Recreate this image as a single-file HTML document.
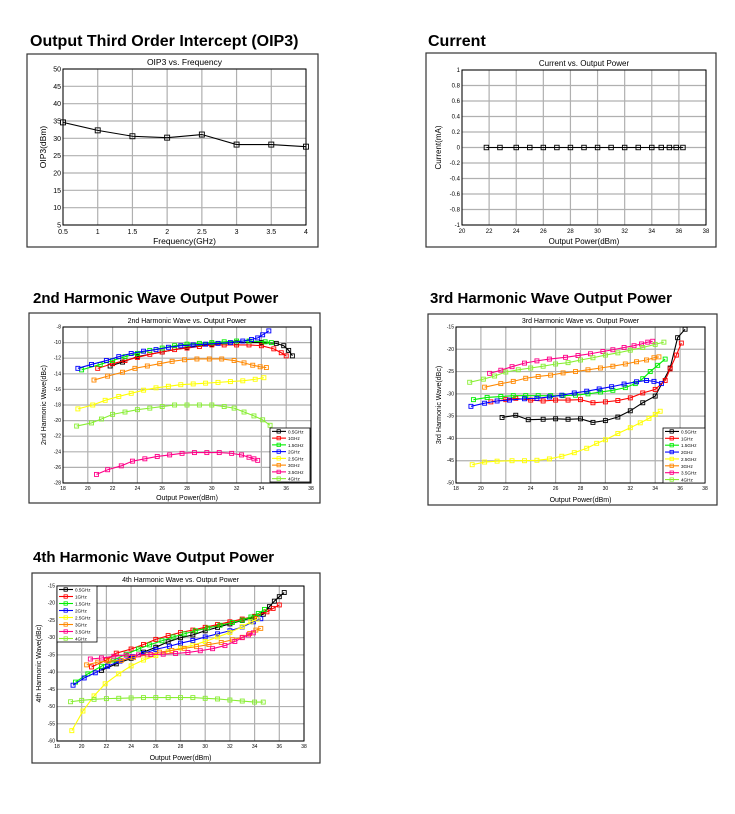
<!DOCTYPE html>
<html><head><meta charset="utf-8"><style>
html,body{margin:0;padding:0;background:#fff;}
svg{display:block;font-family:"Liberation Sans",Arial,sans-serif;}
</style></head><body>
<svg id="s" width="735" height="814" viewBox="0 0 735 814" xmlns="http://www.w3.org/2000/svg">
<text x="30" y="46" font-size="16" font-weight="bold">Output Third Order Intercept (OIP3)</text>
<text x="428" y="46" font-size="16" font-weight="bold">Current</text>
<text x="33" y="303" font-size="15" font-weight="bold">2nd Harmonic Wave Output Power</text>
<text x="430" y="303" font-size="15" font-weight="bold">3rd Harmonic Wave Output Power</text>
<text x="33" y="562" font-size="15" font-weight="bold">4th Harmonic Wave Output Power</text>
</svg>
<script>
const S=document.getElementById('s');let h='';
const C={b:'#000',r:'#f00',g:'#0e0',u:'#00f',y:'#ff0',o:'#f80',p:'#f08',l:'#8e3'};
function chart(o){
 const [fx0,fy0,fx1,fy1]=o.frame,[px0,py0,px1,py1]=o.plot;
 const X=v=>px0+(v-o.xr[0])/(o.xr[1]-o.xr[0])*(px1-px0);
 const Y=v=>py1-(v-o.yr[0])/(o.yr[1]-o.yr[0])*(py1-py0);
 h+=`<rect x="${fx0}" y="${fy0}" width="${fx1-fx0}" height="${fy1-fy0}" fill="#fff" stroke="#333" stroke-width="1.2"/>`;
 const fs=o.fs;
 o.xt.forEach(t=>{const x=X(t);h+=`<line x1="${x}" y1="${py0}" x2="${x}" y2="${py1}" stroke="#b0b0b0" stroke-width="1.2"/><text x="${x}" y="${py1+fs+2}" font-size="${fs}" text-anchor="middle">${t}</text>`;});
 o.yt.forEach(t=>{const y=Y(t);h+=`<line x1="${px0}" y1="${y}" x2="${px1}" y2="${y}" stroke="#b0b0b0" stroke-width="1.2"/><text x="${px0-2}" y="${y+fs/2-1}" font-size="${fs}" text-anchor="end">${t}</text>`;});
 h+=`<rect x="${px0}" y="${py0}" width="${px1-px0}" height="${py1-py0}" fill="none" stroke="#000" stroke-width="1"/>`;
 h+=`<text x="${(px0+px1)/2}" y="${py0-4}" font-size="${o.ts}" text-anchor="middle">${o.title}</text>`;
 h+=`<text x="${(px0+px1)/2}" y="${fy1-3}" font-size="${o.ls}" text-anchor="middle">${o.xl}</text>`;
 const yc=(py0+py1)/2,yx=o.ylx;
 h+=`<text x="${yx}" y="${yc}" font-size="${o.ls}" text-anchor="middle" transform="rotate(-90 ${yx} ${yc})">${o.yl}</text>`;
 o.series.forEach(s=>{const pts=s.d.map(p=>[X(p[0]),Y(p[1])]);
  h+=`<polyline points="${pts.map(p=>p.join(',')).join(' ')}" fill="none" stroke="${s.c}" stroke-width="1.1"/>`;
  const m=o.ms;pts.forEach(p=>h+=`<rect x="${p[0]-m/2}" y="${p[1]-m/2}" width="${m}" height="${m}" fill="none" stroke="${s.c}" stroke-width="0.9"/>`);});
 if(o.leg){const [lx,ly,lw,lh]=o.leg;h+=`<rect x="${lx}" y="${ly}" width="${lw}" height="${lh}" fill="#fff" stroke="#000" stroke-width="0.8"/>`;
  const n=o.series.length,st=lh/n;o.series.forEach((s,i)=>{const y=ly+st*(i+.5);
  h+=`<line x1="${lx+2}" y1="${y}" x2="${lx+16}" y2="${y}" stroke="${s.c}" stroke-width="1.1"/><rect x="${lx+7}" y="${y-1.7}" width="3.4" height="3.4" fill="none" stroke="${s.c}" stroke-width="0.8"/><text x="${lx+18}" y="${y+2}" font-size="4.6">${s.n}</text>`;});}
}
const P=s=>s.trim().split(/;\s*/).map(p=>p.split(',').map(Number));
const N=['0.5GHz','1GHz','1.5GHz','2GHz','2.5GHz','3GHz','3.5GHz','4GHz'],K='bruyop l'.replace(' ','').split('');
const ser=a=>a.map((d,i)=>({c:C['bgruyopl'.includes('')?['b','r','g','u','y','o','p','l'][i]:'b'],n:N[i],d:P(d)}));
const rng=(a,b,s)=>{const r=[];for(let v=a;s>0?v<=b+1e-9:v>=b-1e-9;v+=s)r.push(+v.toFixed(2));return r;};
chart({frame:[27,54,318,247],plot:[63,69,306,225],xr:[0.5,4],yr:[5,50],xt:rng(0.5,4,0.5),yt:rng(5,50,5),fs:7,ts:8.5,ls:8.5,ms:5,
 title:'OIP3 vs. Frequency',xl:'Frequency(GHz)',yl:'OIP3(dBm)',ylx:46,
 series:[{c:'#000',d:P('0.5,34.6;1,32.3;1.5,30.6;2,30.2;2.5,31.1;3,28.2;3.5,28.2;4,27.6')}]});
chart({frame:[426,53,716,247],plot:[462,70,706,225],xr:[20,38],yr:[-1,1],xt:rng(20,38,2),yt:rng(1,-1,-0.2),fs:6,ts:8,ls:8,ms:4.5,
 title:'Current vs. Output Power',xl:'Output Power(dBm)',yl:'Current(mA)',ylx:441,
 series:[{c:'#000',d:P('21.8,0;22.8,0;24,0;25,0;26,0;27,0;28,0;29,0;30,0;31,0;32,0;33,0;34,0;34.7,0;35.3,0;35.8,0;36.3,0')}]});
chart({frame:[29,313,320,503],plot:[63,327,311,483],xr:[18,38],yr:[-28,-8],xt:rng(18,38,2),yt:rng(-8,-28,-2),fs:5,ts:7,ls:7,ms:4,
 title:'2nd Harmonic Wave vs. Output Power',xl:'Output Power(dBm)',yl:'2nd Harmonic Wave(dBc)',ylx:46,leg:[270,428,40,54],
 series:ser(['21.8,-13;22.8,-12.5;24,-11.8;26,-11.2;28,-10.6;30,-10.2;32,-10;34,-10;35.2,-10.1;35.8,-10.4;36.2,-11;36.5,-11.7',
 '20.8,-13.3;22,-12.7;23,-12.3;24,-11.9;25,-11.5;26,-11.2;27,-10.9;28,-10.7;29,-10.5;30,-10.3;31,-10.3;32,-10.3;33,-10.3;34,-10.4;35,-10.8;35.6,-11.3;36,-11.7',
 '19.5,-13.5;21,-12.8;22,-12.3;23,-11.8;24,-11.4;25,-11;26,-10.7;27,-10.4;28,-10.2;29,-10.1;30,-10;31,-9.9;32,-9.8;33,-9.8;34.3,-9.9;34.8,-10',
 '19.2,-13.3;20.3,-12.8;21.5,-12.3;22.5,-11.8;23.5,-11.4;24.5,-11.1;25.5,-10.9;26.5,-10.6;27.5,-10.4;28.5,-10.3;29.5,-10.2;30.5,-10.1;31.5,-10;32.5,-9.8;33.2,-9.6;33.7,-9.4;34.1,-9;34.6,-8.5',
 '19.2,-18.5;20.4,-18;21.4,-17.4;22.5,-16.9;23.5,-16.5;24.5,-16.1;25.5,-15.8;26.5,-15.6;27.5,-15.4;28.5,-15.3;29.5,-15.2;30.5,-15.1;31.5,-15;32.5,-14.9;33.5,-14.7;34.2,-14.5',
 '20.5,-14.8;21.6,-14.3;22.8,-13.8;23.8,-13.3;24.8,-13;25.8,-12.7;26.8,-12.4;27.8,-12.2;28.8,-12.1;29.8,-12.1;30.8,-12.1;31.8,-12.3;32.6,-12.6;33.3,-12.9;33.9,-13.1;34.4,-13.2',
 '20.7,-26.9;21.6,-26.3;22.7,-25.8;23.6,-25.2;24.6,-24.9;25.6,-24.6;26.6,-24.4;27.6,-24.2;28.6,-24.1;29.6,-24.1;30.6,-24.1;31.6,-24.2;32.4,-24.4;33,-24.7;33.4,-24.9;33.7,-25.1',
 '19.1,-20.7;20.3,-20.3;21.1,-19.8;22,-19.2;23,-18.9;24,-18.6;25,-18.4;26,-18.2;27,-18;28,-18;29,-18;30,-18;31,-18.2;31.8,-18.4;32.6,-18.9;33.4,-19.4;34.1,-19.9;34.7,-20.6'])});
chart({frame:[428,314,717,505],plot:[456,327,705,483],xr:[18,38],yr:[-50,-15],xt:rng(18,38,2),yt:rng(-15,-50,-5),fs:5,ts:7,ls:7,ms:4,
 title:'3rd Harmonic Wave vs. Output Power',xl:'Output Power(dBm)',yl:'3rd Harmonic Wave(dBc)',ylx:441,leg:[663,428,42,55],
 series:ser(['21.7,-35.3;22.8,-34.8;23.8,-35.8;25,-35.7;26,-35.6;27,-35.7;28,-35.6;29,-36.4;30,-36;31,-35.2;32,-33.8;33,-32;34,-30.5;35.2,-24.2;35.8,-17.4;36.4,-15.5',
 '20.8,-31.8;22,-31.3;22.8,-31;24,-31.4;25,-31.6;26,-31.4;27,-31.4;28,-31.3;29,-32;30,-31.8;31,-31.5;32,-30.9;33,-29.8;34,-29;34.8,-27;35.2,-24.4;35.7,-21.3;36.1,-18.6',
 '19.4,-31.3;20.5,-30.8;21.6,-30.6;22.6,-30.4;23.6,-30.4;24.6,-30.4;25.6,-30.4;26.6,-30.4;27.6,-30.3;28.6,-30;29.6,-29.6;30.6,-29.2;31.6,-28.6;32.4,-27.7;33,-26.6;33.6,-25;34.2,-23.6;34.8,-22.2',
 '19.2,-32.8;20.3,-32.1;21.3,-31.6;22.3,-31.4;23.5,-31.1;24.5,-31;25.5,-30.7;26.5,-30.3;27.5,-29.8;28.5,-29.4;29.5,-28.9;30.5,-28.4;31.5,-27.8;32.5,-27.3;33.3,-27;33.9,-27.2;34.5,-27.7',
 '19.3,-45.9;20.3,-45.3;21.3,-45.1;22.5,-45;23.5,-45;24.5,-44.9;25.5,-44.6;26.5,-44;27.5,-43.2;28.5,-42.2;29.3,-41.1;30,-40.3;31,-38.9;32,-37.6;32.8,-36.5;33.5,-35.5;34,-34.6;34.4,-33.9',
 '20.3,-28.5;21.6,-27.7;22.6,-27.2;23.6,-26.5;24.6,-26.1;25.6,-25.8;26.6,-25.3;27.6,-25;28.6,-24.6;29.6,-24.2;30.6,-23.8;31.6,-23.3;32.5,-22.8;33.3,-22.4;33.9,-21.9;34.3,-21.7',
 '20.7,-25.4;21.6,-24.7;22.5,-23.9;23.5,-23.1;24.5,-22.6;25.5,-22.2;26.8,-21.8;27.8,-21.4;28.8,-21;29.8,-20.5;30.6,-20.1;31.5,-19.6;32.3,-19.2;32.9,-18.8;33.4,-18.4;33.8,-18.2',
 '19.1,-27.4;20.2,-26.7;21.1,-26;22,-25.1;23,-24.6;24,-24.2;25,-23.8;26,-23.3;27,-23;28,-22.4;29,-21.9;30,-21.3;31,-20.8;32,-20.2;33,-19.6;34,-18.9;34.7,-18.4'])});
chart({frame:[32,573,320,763],plot:[57,586,304,741],xr:[18,38],yr:[-60,-15],xt:rng(18,38,2),yt:rng(-15,-60,-5),fs:5,ts:7,ls:7,ms:4,
 title:'4th Harmonic Wave vs. Output Power',xl:'Output Power(dBm)',yl:'4th Harmonic Wave(dBc)',ylx:41,leg:[57,586,40,56],
 series:ser(['21.6,-39.5;22.8,-37.6;24,-36;25,-34.2;26,-32.8;27,-31.2;28,-30;29,-29.2;30,-28;31,-27;32,-26;33,-25;34,-24;34.7,-23.2;35.2,-21;35.6,-19.4;36,-18.1;36.4,-16.9',
 '20.8,-38.5;22,-36.5;22.8,-34.5;24,-33.3;25,-32;26,-30.5;27,-29.4;28,-28.5;29,-27.8;30,-27;31,-26.2;32,-25.4;33,-24.6;34,-23.8;35,-22.5;35.5,-21.5;36,-20.5',
 '19.5,-42.9;20.5,-40.5;21.6,-38.3;22.6,-36.5;23.6,-34.8;24.6,-33.3;25.5,-32.1;26.5,-30.9;27.4,-29.8;28.3,-28.9;29.2,-28;30.2,-27.2;31.2,-26.4;32.2,-25.6;33,-24.9;33.7,-24;34.3,-23;34.8,-21.8',
 '19.3,-43.8;20.2,-41.7;21.1,-40.2;22.1,-38.3;23.1,-36.8;24.1,-35.5;25,-34.6;26,-33.4;27.1,-32.5;28,-31.6;29,-30.8;30,-29.8;31,-28.9;32,-28;33,-26.9;33.9,-25.4;34.5,-24.5',
 '19.2,-57;20.1,-51.3;21,-46.9;21.9,-43.4;23,-40.5;24,-38.2;25,-36.5;26,-35.2;27,-34;28,-33;29,-32.2;30,-31.1;31,-29.8;32,-28.5;33,-26.8;33.7,-25.4;34.2,-24.6',
 '20.4,-37.9;21.3,-37.1;22.2,-36.8;23.2,-36.6;24.2,-35.8;25.3,-35;26.3,-34.2;27.3,-33.7;28.3,-33.1;29.3,-32.6;30.3,-32;31.3,-31.4;32.2,-30.6;33,-29.9;33.6,-28.8;34.1,-27.8;34.5,-27.3',
 '20.7,-36.2;21.6,-35.9;22.6,-35.4;23.6,-35.1;24.6,-35;25.6,-34.9;26.6,-34.8;27.6,-34.6;28.6,-34.3;29.6,-33.8;30.6,-33.2;31.6,-32.3;32.4,-31.1;33,-30;33.5,-29.2;33.9,-28.6',
 '19.1,-48.6;20,-48.2;21,-47.9;22,-47.7;23,-47.6;24,-47.5;25,-47.4;26,-47.4;27,-47.4;28,-47.4;29,-47.4;30,-47.6;31,-47.8;32,-48.1;33,-48.4;34,-48.7;34.7,-48.7'])});
S.insertAdjacentHTML('beforeend',h);
</script>
</body></html>
